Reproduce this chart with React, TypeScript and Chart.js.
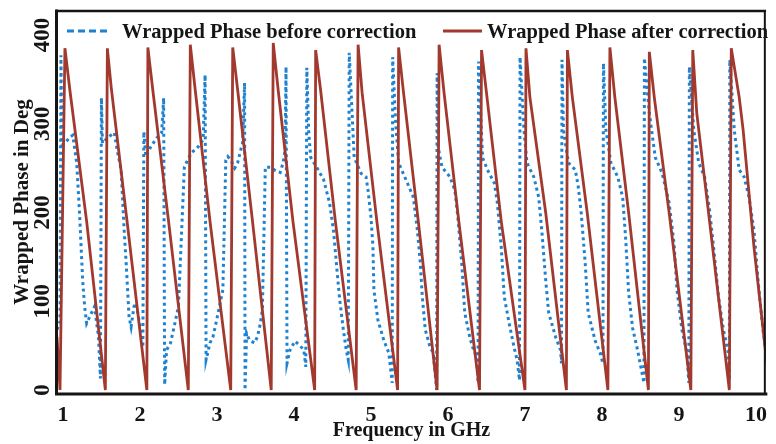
import React, { useEffect, useRef } from 'react';
import { Chart, registerables } from 'chart.js';

Chart.register(...registerables);

const xTickValues = [1, 2, 3, 4, 5, 6, 7, 8, 9, 10];
const yTickValues = [0, 100, 200, 300, 400];
const seriesLabels = ['Wrapped Phase before correction', 'Wrapped Phase after correction'];

// Wrapped phase before correction (GHz, deg)
const beforeFreq = [
  0.923, 0.962, 0.974, 0.987, 1.026, 1.090, 1.128, 1.179, 1.218, 1.256, 1.282, 1.308, 1.346, 1.410, 1.462, 1.487,
  1.500, 1.513, 1.577, 1.667, 1.705, 1.756, 1.795, 1.821, 1.859, 1.885, 1.923, 1.949, 1.987, 2.038,
  2.051, 2.077, 2.141, 2.218, 2.282, 2.308, 2.321, 2.346, 2.397, 2.436, 2.500,
  2.577, 2.603, 2.667, 2.756, 2.821, 2.846, 2.859, 2.910, 2.949, 2.987, 3.077,
  3.115, 3.141, 3.179, 3.231, 3.269, 3.308, 3.333, 3.359, 3.365, 3.385, 3.423, 3.487, 3.526, 3.564, 3.590,
  3.628, 3.654, 3.692, 3.744, 3.821, 3.859, 3.885, 3.897, 3.910, 3.949, 4.013, 4.077, 4.128, 4.154,
  4.167, 4.192, 4.218, 4.295, 4.385, 4.462, 4.513, 4.551, 4.590, 4.641, 4.679, 4.705,
  4.718, 4.782, 4.872, 4.936, 4.962, 5.000, 5.026, 5.038, 5.090, 5.167, 5.231, 5.276,
  5.282, 5.321, 5.359, 5.474, 5.551, 5.603, 5.641, 5.667, 5.705, 5.769, 5.808, 5.853,
  5.859, 5.872, 5.923, 6.026, 6.090, 6.128, 6.179, 6.218, 6.282, 6.321, 6.372, 6.391,
  6.397, 6.449, 6.513, 6.603, 6.641, 6.692, 6.731, 6.795, 6.859, 6.897, 6.929,
  6.936, 6.987, 7.026, 7.115, 7.179, 7.218, 7.269, 7.308, 7.397, 7.462, 7.474,
  7.481, 7.500, 7.564, 7.654, 7.692, 7.731, 7.782, 7.821, 7.910, 7.974, 8.013,
  8.019, 8.051, 8.115, 8.205, 8.269, 8.308, 8.346, 8.397, 8.462, 8.545,
  8.551, 8.615, 8.692, 8.782, 8.872, 8.936, 8.974, 9.038, 9.103, 9.128,
  9.135, 9.192, 9.256, 9.333, 9.397, 9.449, 9.513, 9.577, 9.641, 9.654,
  9.660, 9.718, 9.782, 9.846, 9.910, 9.974, 10.026, 10.090, 10.141,
];
const beforePhase = [
  68, 77, 377, 276, 278, 285, 287, 256, 195, 124, 94, 75, 82, 94, 60, 13,
  329, 278, 284, 290, 270, 248, 180, 143, 82, 71, 94, 98, 79, 48,
  291, 263, 274, 284, 290, 329, 6, 45, 53, 68, 94,
  251, 256, 267, 274, 282, 355, 34, 53, 60, 75, 113,
  259, 263, 259, 250, 256, 270, 278, 346, 0, 64, 56, 53, 60, 75, 90,
  251, 251, 251, 248, 245, 256, 270, 364, 30, 45, 55, 50, 45, 26,
  363, 290, 262, 251, 237, 211, 180, 143, 105, 68, 45, 34,
  380, 262, 244, 240, 225, 195, 161, 113, 79, 56, 42, 8,
  375, 301, 256, 233, 217, 180, 143, 105, 68, 48, 42, 0,
  357, 274, 251, 240, 225, 195, 143, 87, 60, 48, 37, 8,
  370, 262, 248, 233, 211, 161, 105, 75, 48, 34, 11,
  375, 293, 256, 240, 217, 180, 124, 87, 60, 45, 30,
  372, 293, 256, 248, 229, 199, 143, 87, 56, 42, 30,
  368, 293, 256, 240, 217, 170, 110, 70, 45, 8,
  374, 312, 262, 244, 211, 165, 113, 68, 42, 8,
  364, 293, 256, 240, 203, 161, 105, 68, 42, 11,
  372, 293, 248, 240, 217, 180, 124, 68, 37,
];

// Wrapped phase after correction (GHz, deg)
const afterFreq = [
  0.923, 0.962, 1.026, 1.090, 1.308, 1.551,
  1.577, 1.628, 1.833, 2.090,
  2.103, 2.167, 2.372, 2.628,
  2.654, 2.718, 2.910, 3.179,
  3.205, 3.269, 3.462, 3.705,
  3.731, 3.795, 3.987, 4.269,
  4.282, 4.346, 4.538, 4.808,
  4.833, 4.885, 5.077, 5.346,
  5.359, 5.423, 5.615, 5.859,
  5.885, 5.949, 6.141, 6.410,
  6.436, 6.500, 6.692, 7.000,
  7.013, 7.064, 7.269, 7.538,
  7.551, 7.615, 7.808, 8.077,
  8.103, 8.167, 8.346, 8.603,
  8.615, 8.679, 8.872, 9.154,
  9.179, 9.231, 9.385, 9.654,
  9.679, 9.782, 9.833, 9.974, 10.141,
];
const afterPhase = [
  60, 0, 385, 338, 190, 0,
  385, 340, 190, 0,
  386, 338, 190, 0,
  389, 338, 190, 0,
  386, 338, 190, 0,
  391, 338, 190, 0,
  383, 338, 190, 0,
  389, 335, 190, 0,
  386, 335, 190, 0,
  389, 335, 190, 0,
  383, 335, 190, 0,
  385, 330, 200, 0,
  383, 330, 200, 0,
  386, 330, 200, 0,
  381, 330, 200, 0,
  383, 312, 199, 0,
  385, 330, 293, 161, 30,
];

const SERIF = '"Liberation Serif", "DejaVu Serif", serif';
const BLUE = '#1e82d0';
const RED = '#a2392e';
const INK = '#151515';

export default function App() {
  const ref = useRef<HTMLCanvasElement>(null);

  useEffect(() => {
    document.body.style.margin = '0';
    const canvas = ref.current;
    if (!canvas) return;

    const framePlugin = {
      id: 'frame',
      afterDatasetsDraw(chart: any) {
        const { ctx, chartArea: a } = chart;
        ctx.save();
        ctx.strokeStyle = INK;
        ctx.lineCap = 'square';
        ctx.lineWidth = 2.5;
        ctx.beginPath();
        ctx.moveTo(a.left, a.top);
        ctx.lineTo(a.right - 1, a.top);
        ctx.stroke();
        ctx.lineWidth = 2;
        ctx.beginPath();
        ctx.moveTo(a.right - 1, a.top);
        ctx.lineTo(a.right - 1, a.bottom);
        ctx.stroke();
        ctx.lineWidth = 3;
        ctx.beginPath();
        ctx.moveTo(a.left - 0.5, a.top);
        ctx.lineTo(a.left - 0.5, a.bottom + 1);
        ctx.lineTo(a.right, a.bottom + 1);
        ctx.stroke();
        ctx.restore();
      },
    };

    const legendPlugin = {
      id: 'insideLegend',
      afterDatasetsDraw(chart: any) {
        const { ctx } = chart;
        ctx.save();
        ctx.lineWidth = 3;
        ctx.strokeStyle = BLUE;
        ctx.setLineDash([7, 4]);
        ctx.beginPath();
        ctx.moveTo(67, 31);
        ctx.lineTo(111, 31);
        ctx.stroke();
        ctx.setLineDash([]);
        ctx.strokeStyle = RED;
        ctx.beginPath();
        ctx.moveTo(443, 31);
        ctx.lineTo(482, 31);
        ctx.stroke();
        ctx.fillStyle = INK;
        ctx.font = `bold 20.5px ${SERIF}`;
        ctx.textBaseline = 'alphabetic';
        ctx.textAlign = 'left';
        ctx.fillText(seriesLabels[0], 122, 38);
        ctx.fillText(seriesLabels[1], 487, 38);
        ctx.restore();
      },
    };

    const chart = new Chart(canvas, {
      type: 'line',
      data: {
        datasets: [
          {
            label: seriesLabels[0],
            data: beforeFreq.map((x, i) => ({ x, y: beforePhase[i] })),
            borderColor: BLUE,
            borderWidth: 3,
            borderDash: [3, 3.5],
            pointRadius: 0,
            fill: false,
            tension: 0,
            order: 1,
          },
          {
            label: seriesLabels[1],
            data: afterFreq.map((x, i) => ({ x, y: afterPhase[i] })),
            borderColor: RED,
            borderWidth: 2.8,
            pointRadius: 0,
            fill: false,
            tension: 0,
            order: 0,
          },
        ],
      },
      options: {
        responsive: false,
        animation: false,
        layout: { padding: { top: 11, right: 1, left: 0, bottom: 0 } },
        plugins: { legend: { display: false }, tooltip: { enabled: false } },
        scales: {
          x: {
            type: 'linear',
            min: 0.923,
            max: 10.128,
            afterBuildTicks: (s: any) => {
              s.ticks = xTickValues.map((v) => ({ value: v }));
            },
            afterFit: (s: any) => {
              s.height = 51;
            },
            grid: { display: false, drawTicks: false },
            border: { display: false },
            ticks: {
              font: { family: SERIF, size: 22, weight: 'bold' },
              color: INK,
              padding: 9,
              minRotation: 0,
              maxRotation: 0,
              autoSkip: false,
              callback: (v: any) => String(v),
            },
            title: {
              display: true,
              text: 'Frequency in GHz',
              color: INK,
              font: { family: SERIF, size: 20, weight: 'bold' },
              padding: { top: 0, bottom: 1 },
            },
          },
          y: {
            type: 'linear',
            min: -3.4,
            max: 427,
            afterBuildTicks: (s: any) => {
              s.ticks = yTickValues.map((v) => ({ value: v }));
            },
            afterFit: (s: any) => {
              s.width = 57;
            },
            grid: { display: false, drawTicks: false },
            border: { display: false },
            ticks: {
              font: { family: SERIF, size: 23, weight: 'bold' },
              color: INK,
              padding: -3,
              minRotation: 90,
              maxRotation: 90,
              crossAlign: 'center',
              autoSkip: false,
              callback: (v: any) => String(v),
            },
            title: {
              display: true,
              text: 'Wrapped Phase in Deg',
              color: INK,
              font: { family: SERIF, size: 21, weight: 'bold' },
              padding: { top: 10, bottom: 0 },
            },
          },
        },
      },
      plugins: [framePlugin, legendPlugin],
    } as any);

    return () => chart.destroy();
  }, []);

  return <canvas ref={ref} width={776} height={444} style={{ display: 'block' }} />;
}
